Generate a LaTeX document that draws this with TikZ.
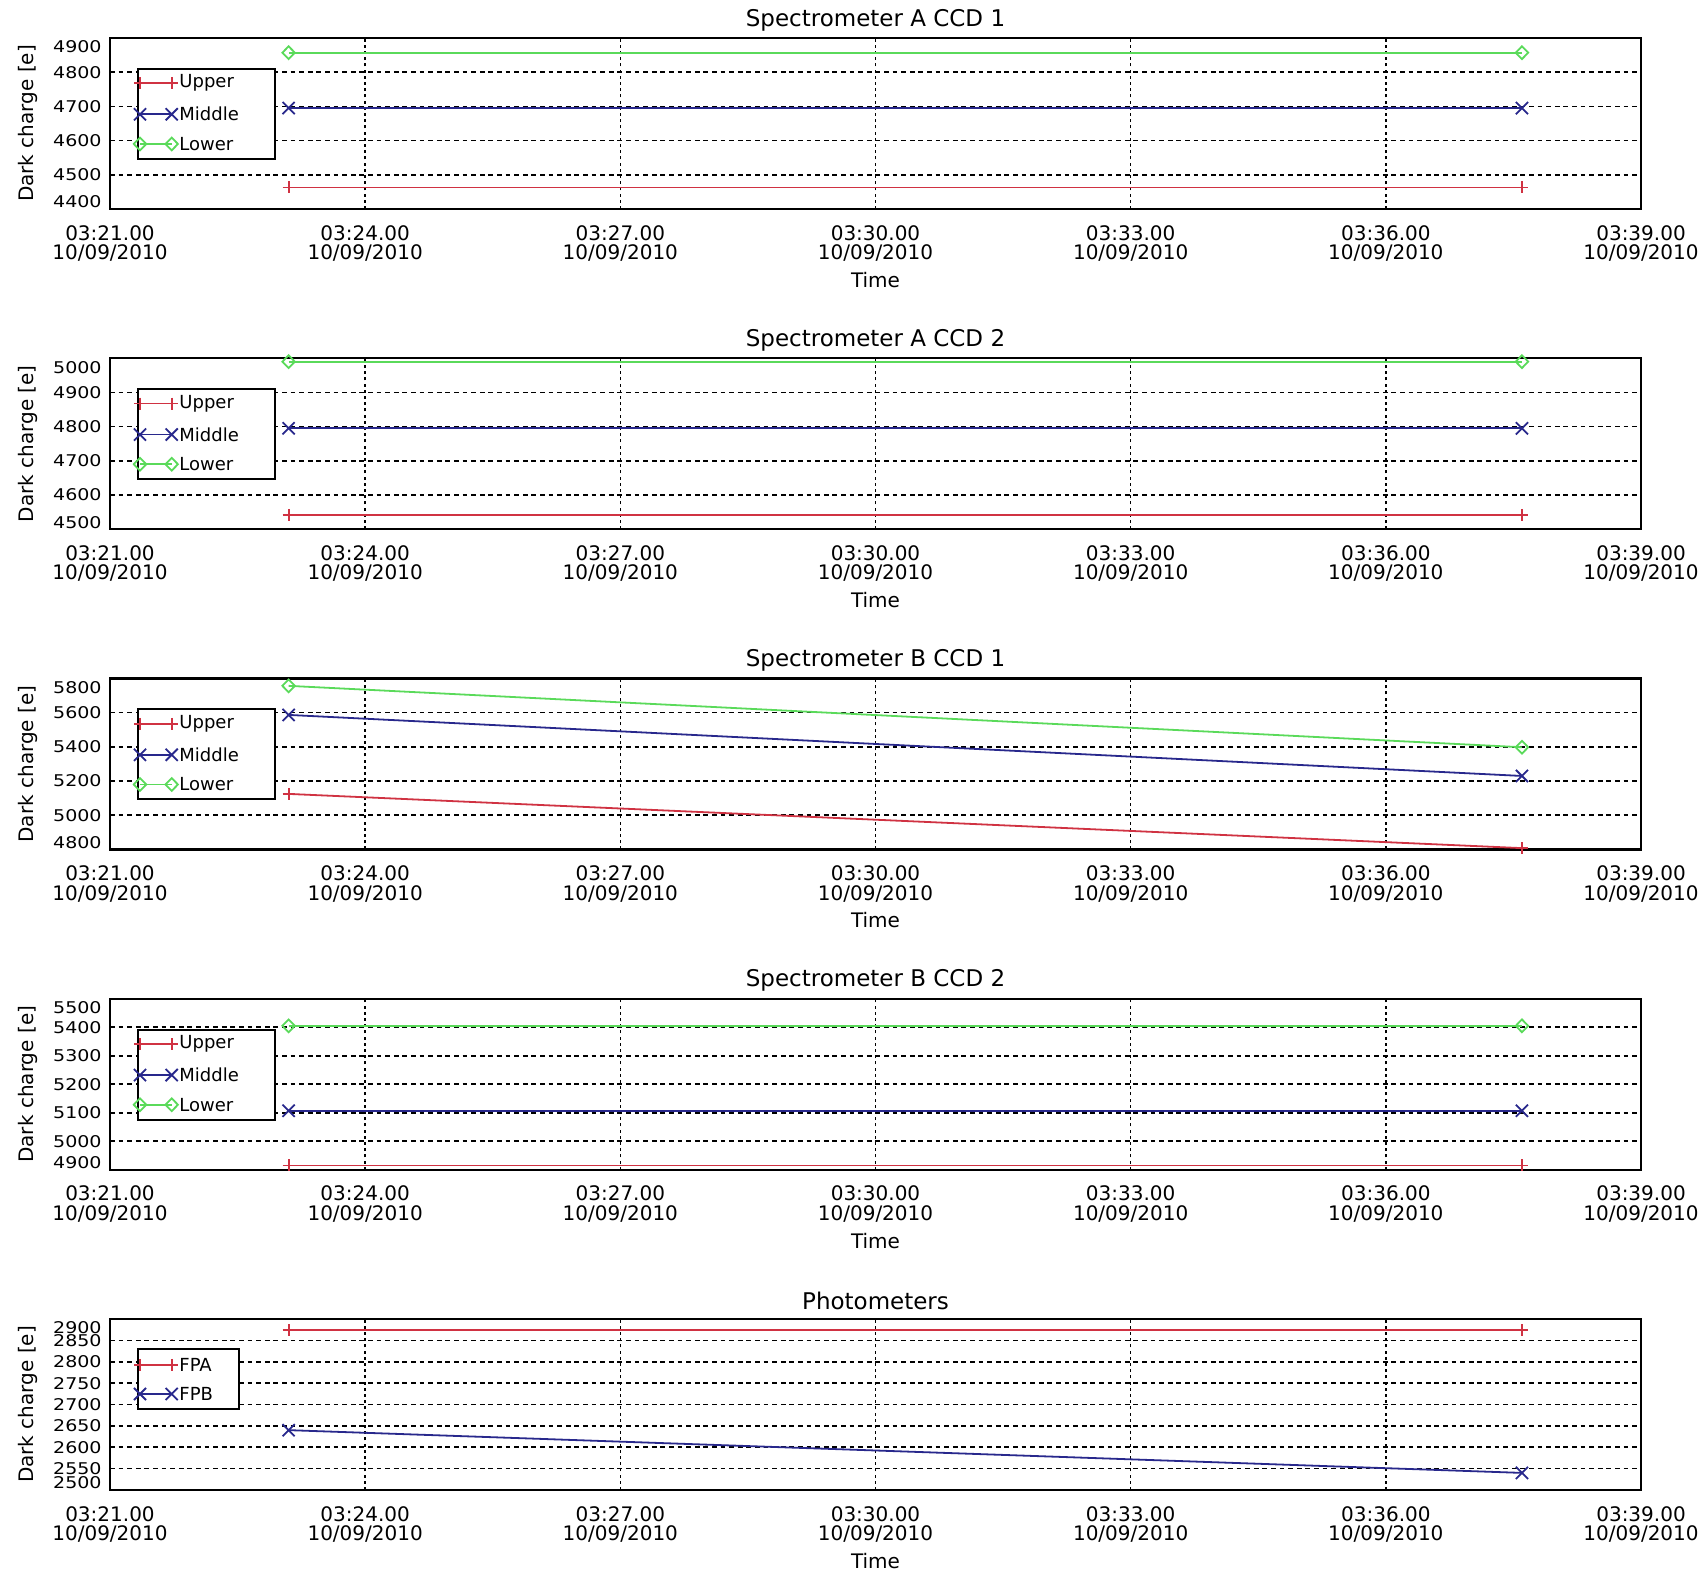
\documentclass[tikz,border=0pt]{standalone}
\usepackage{fontspec}
\setmainfont{DejaVu Sans}
\usepackage{graphicx}
\usetikzlibrary{plotmarks}

\definecolor{upperred}{RGB}{208,50,66}
\definecolor{middleblue}{RGB}{40,40,140}
\definecolor{lowergreen}{RGB}{90,218,90}

\tikzstyle{frame}=[black,line width=1.1pt]
\tikzstyle{hgrid}=[black,line width=0.8pt,dash pattern=on 2.4pt off 1.9pt]
\tikzstyle{vgrid}=[black,line width=0.8pt,dash pattern=on 1.5pt off 1.6pt]
\tikzstyle{upperline}=[upperred,line width=0.9pt,mark=+,mark size=3pt]
\tikzstyle{middleline}=[middleblue,line width=0.9pt,mark=x,mark size=4.3pt]
\tikzstyle{lowerline}=[lowergreen,line width=0.9pt,mark=diamond,mark size=3.2pt,mark options={xscale=1.3}]
\tikzstyle{ytick}=[anchor=east,inner sep=0pt,font=\fontsize{9.5}{10}\selectfont,xshift=-4pt]
\tikzstyle{xtick}=[align=center,inner sep=0pt,font=\fontsize{10}{9.7}\selectfont]
\tikzstyle{plottitle}=[inner sep=0pt,font=\fontsize{11.5}{14}\selectfont]
\tikzstyle{axislabel}=[inner sep=0pt,font=\fontsize{10}{12}\selectfont]
\tikzstyle{legendtext}=[anchor=west,inner sep=0pt,font=\fontsize{9}{10}\selectfont]
\tikzstyle{legendbox}=[fill=white,draw=black,line width=1pt]
\tikzstyle{panelscope}=[shift={(110,\ybot)},x=42.528pt,y=\yu pt,shift={(0,-\ymin)}]

% one panel: grid, ticks, titles and frame
\newcommand{\drawpanel}[5]{
  \pgfmathsetmacro{\ytop}{1535-320.25*#1}
  \pgfmathsetmacro{\ybot}{\ytop-171}
  \pgfmathsetmacro{\yu}{85.5/(#4-#3)} % pt per unit of charge
  \pgfmathsetmacro{\ymin}{#3}
  \begin{scope}[panelscope]
    \foreach \v in {#5} {
      \pgfmathsetmacro{\off}{3.5*(\v==#3)-4.5*(\v==#4)}
      \draw[hgrid] (0,\v) -- (18,\v);
      \node[ytick,yshift=\off pt] (yt-#1-\v) at (0,\v) {\scalebox{1}[0.85]{\v}};
    }
    \foreach \m/\t in {0/21,3/24,6/27,9/30,12/33,15/36,18/39} {
      \ifnum\m>0 \ifnum\m<18 \draw[vgrid] (\m,#3) -- (\m,#4); \fi\fi
      \node[xtick,yshift=-17.2pt] (xt-#1-\m) at (\m,#3) {03:\t.00\\10/09/2010};
    }
    \node[axislabel,yshift=-35.5pt] (time#1) at (9,#3) {Time};
    \node[plottitle,yshift=9pt] (title#1) at (9,#4) {#2};
    \draw[frame] (0,#3) rectangle (18,#4);
  \end{scope}
  \node[axislabel,rotate=90] (ylabel#1) at (28,\ybot+85.5) {Dark charge [e]};
}
\newcommand{\legendentry}[4]{ % name, offset below panel top, style, text
  \draw[#3] plot coordinates {(140,\ytop-#2) (171.7,\ytop-#2)};
  \node[legendtext] (#1) at (179,\ytop-#2) {#4};
}
\newcommand{\ccdlegend}[1]{
  \draw[legendbox] (138,\ytop-31) rectangle (275,\ytop-121);
  \legendentry{up#1}{45.3}{upperline}{Upper}
  \legendentry{mid#1}{76.3}{middleline}{Middle}
  \legendentry{low#1}{106}{lowerline}{Lower}
}

\begin{document}
\begin{tikzpicture}[x=0.5pt,y=0.5pt]
\useasboundingbox (0,0) rectangle (1706,1573);

\drawpanel{0}{Spectrometer A CCD 1}{4400}{4900}{4400,4500,...,4900}
\begin{scope}[panelscope]
  \draw[upperline] plot coordinates {(2.1,4463) (16.6,4463)};
  \draw[middleline] plot coordinates {(2.1,4695) (16.6,4695)};
  \draw[lowerline] plot coordinates {(2.1,4857) (16.6,4857)};
\end{scope}
\ccdlegend{0}

\drawpanel{1}{Spectrometer A CCD 2}{4500}{5000}{4500,4600,...,5000}
\begin{scope}[panelscope]
  \draw[upperline] plot coordinates {(2.1,4542) (16.6,4542)};
  \draw[middleline] plot coordinates {(2.1,4795) (16.6,4795)};
  \draw[lowerline] plot coordinates {(2.1,4990) (16.6,4990)};
\end{scope}
\ccdlegend{1}

\drawpanel{2}{Spectrometer B CCD 1}{4800}{5800}{4800,5000,...,5800}
\begin{scope}[panelscope]
  \draw[upperline] plot coordinates {(2.1,5125) (16.6,4808)};
  \draw[middleline] plot coordinates {(2.1,5587) (16.6,5230)};
  \draw[lowerline] plot coordinates {(2.1,5757) (16.6,5398)};
\end{scope}
\ccdlegend{2}

\drawpanel{3}{Spectrometer B CCD 2}{4900}{5500}{4900,5000,...,5500}
\begin{scope}[panelscope]
  \draw[upperline] plot coordinates {(2.1,4915) (16.6,4915)};
  \draw[middleline] plot coordinates {(2.1,5107) (16.6,5107)};
  \draw[lowerline] plot coordinates {(2.1,5405) (16.6,5405)};
\end{scope}
\ccdlegend{3}

\drawpanel{4}{Photometers}{2500}{2900}{2500,2550,...,2900}
\begin{scope}[panelscope]
  \draw[upperline] plot coordinates {(2.1,2874) (16.6,2874)};
  \draw[middleline] plot coordinates {(2.1,2640) (16.6,2540)};
\end{scope}
\draw[legendbox] (138,\ytop-30) rectangle (239,\ytop-90);
\legendentry{fpa}{46}{upperline}{FPA}
\legendentry{fpb}{75}{middleline}{FPB}
\end{tikzpicture}
\end{document}
